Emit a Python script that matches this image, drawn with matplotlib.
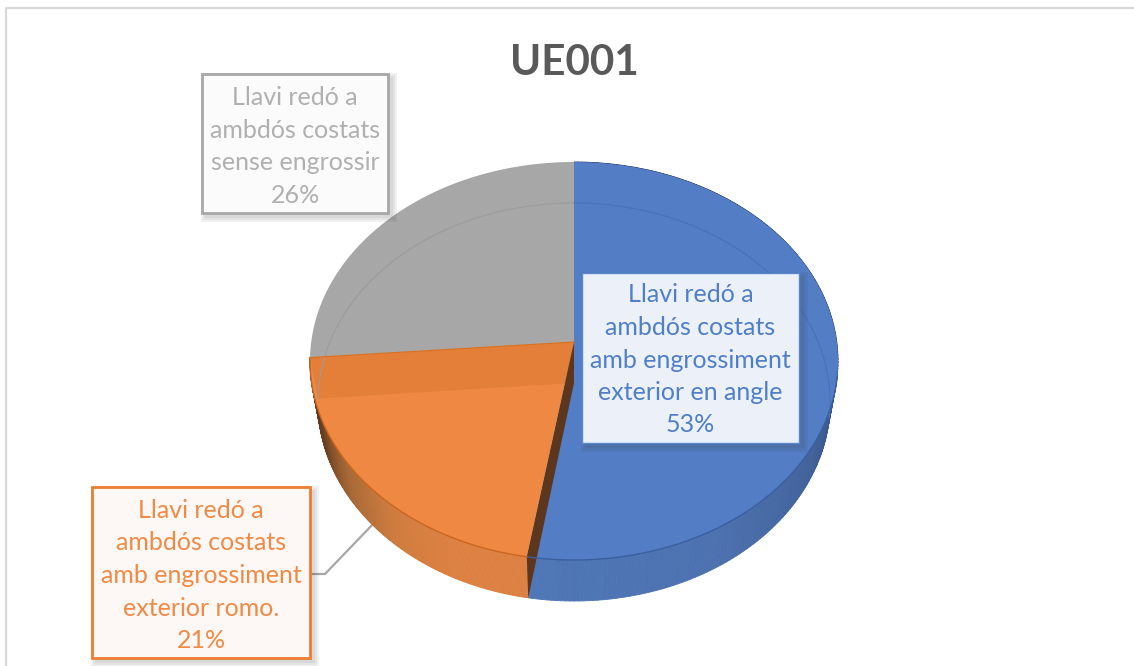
#!/usr/bin/env python3
"""UE001: 3D-looking pie with boxed callout labels, drawn in pixel coordinates."""

import numpy as np
import matplotlib
matplotlib.use("Agg")
import matplotlib.pyplot as plt
from matplotlib.collections import PolyCollection
from matplotlib.colors import LinearSegmentedColormap
from matplotlib.patches import Polygon, Rectangle

TITLE = "UE001"
NAMES = [
    "Llavi redó a\nambdós costats\namb engrossiment\nexterior en angle",
    "Llavi redó a\nambdós costats\namb engrossiment\nexterior romo.",
    "Llavi redó a\nambdós costats\nsense engrossir",
]
# slice sizes as drawn, the labels round them to 53 / 21 / 26
SHARES = [52.6, 21.15, 26.25]

BLUE, ORANGE, GREY = "#537dc5", "#ee8842", "#a7a7a7"

# projection of the pie disc, in pixels
CX, CY = 574, 342
DEPTH = 41
RX, RY, PERSP = 262.8, 197.2, 0.0955
BOTTOM_SHRINK = 0.97


def rim(t, bottom=False):
    """Screen position of the disc edge at angle t (radians, clockwise from top)."""
    x, y = np.sin(t), -np.cos(t)
    w = 1 - PERSP * y
    if bottom:
        return CX + BOTTOM_SHRINK * RX * x / w, CY + DEPTH + RY * y / w
    return CX + RX * x / w, CY + RY * y / w


def arc(t0, t1, bottom=False, n=200):
    return np.column_stack(rim(np.linspace(t0, t1, n), bottom))


def wall(ax, t0, t1, cmap, n=200):
    ts = np.linspace(t0, t1, n + 1)
    top = np.column_stack(rim(ts))
    low = np.column_stack(rim(ts, bottom=True))
    quads = [[top[i], top[i + 1], low[i + 1], low[i]] for i in range(n)]
    cols = cmap(np.linspace(0, 1, n))
    ax.add_collection(PolyCollection(quads, facecolors=cols, edgecolors=cols,
                                     linewidths=0.6, zorder=2))


def callout(ax, x0, y0, x1, y1, text, color, face, edge, lw, size=18, spacing=1.5, dy=0):
    # soft shadow: stacked translucent rectangles, to the lower right
    for grow in (5, 3, 1):
        ax.add_patch(Rectangle((x0 + 4 - grow, y0 + 4 - grow),
                               x1 - x0 + 2 * grow, y1 - y0 + 2 * grow,
                               fc="#404040", ec="none", alpha=0.07, zorder=6))
    ax.add_patch(Rectangle((x0, y0), x1 - x0, y1 - y0, fc=face, ec=edge, lw=lw, zorder=7))
    ax.text((x0 + x1) / 2, (y0 + y1) / 2 + dy, text, color=color, fontsize=size,
            ha="center", va="center", linespacing=spacing, multialignment="center",
            family=["Lato", "DejaVu Sans"], zorder=8)


fig = plt.figure(figsize=(11.34, 6.66), dpi=100)
ax = fig.add_axes([0, 0, 1, 1])
ax.set_xlim(0, 1134)
ax.set_ylim(666, 0)
ax.axis("off")

# chart frame, only the top and left edges are in the crop
ax.plot([6, 6, 1134], [666, 8, 8], color="#d9d9d9", lw=1.6, zorder=1)

ax.text(574, 63, TITLE, color="#595959", fontsize=30.4, fontweight="bold",
        ha="center", va="center", family=["Lato", "DejaVu Sans"])

# leader line of the orange label
ax.plot([310, 325, 375], [574, 574, 522], color=GREY, lw=1.6, zorder=1)

edges = 2 * np.pi * np.cumsum([0] + SHARES) / sum(SHARES)
t_bo, t_og = edges[1], edges[2]

blue_wall = LinearSegmentedColormap.from_list(
    "bw", ["#1d2f55", "#1d2f55", "#263e6b", "#3f5e96", "#4d72b0", "#4f76b6"])
orange_wall = LinearSegmentedColormap.from_list(
    "ow", ["#dd8142", "#dd8142", "#d07c3e", "#a86a38", "#6b4020", "#5c371d"])
wall(ax, 0, t_bo, blue_wall)
wall(ax, t_bo, t_og, orange_wall)

# top faces
apex = (CX, CY)
low_apex = (CX, CY + DEPTH)
ax.add_patch(Polygon(np.vstack([apex, arc(0, t_bo)]), fc=BLUE, ec="none", zorder=3))
ax.add_patch(Polygon(np.vstack([apex, arc(t_og, 2 * np.pi)]), fc=GREY, ec="none", zorder=3))
ax.add_patch(Polygon(np.vstack([apex, arc(t_bo, t_og)]), fc=ORANGE, ec="none", zorder=3))

# darker band: the far cut wall of the orange slice showing through its top
ax.add_patch(Polygon([apex, rim(t_og), rim(t_og, True), low_apex],
                     fc="#e37f39", ec="none", zorder=4))
# brown cut wall between blue and orange
ax.add_patch(Polygon([apex, low_apex, rim(t_bo, True), rim(t_bo)],
                     fc="#5c371d", ec="none", zorder=4))

# ghost outline of the lower rim and the rim highlights
ghost = arc(t_og, 2 * np.pi, bottom=True)
ax.plot(ghost[:, 0], ghost[:, 1], color="#9c9c9c", lw=0.8, zorder=4)
ghost = arc(0, np.radians(100), bottom=True)
ax.plot(ghost[:, 0], ghost[:, 1], color="#4a72b6", lw=0.8, zorder=4)
edge = arc(np.radians(100), t_bo)
ax.plot(edge[:, 0], edge[:, 1], color="#3a5f9f", lw=1.0, zorder=4)
edge = arc(t_bo, t_og)
ax.plot(edge[:, 0], edge[:, 1], color="#c9661f", lw=1.0, zorder=4)
ax.plot([CX, rim(t_og)[0]], [CY, rim(t_og)[1]], color="#d9701f", lw=0.8, zorder=5)

labels = [f"{n}\n{round(s)}%" for n, s in zip(NAMES, SHARES)]
callout(ax, 582, 273, 799, 443, labels[0], "#4f7fc9", "#ecf0f9", "#5b87cd", 1.0, dy=2)
callout(ax, 92, 487, 310, 658, labels[1], "#f08a45", "#fdf8f5", "#ed7d31", 2.0, dy=3)
callout(ax, 202, 74, 388, 213, labels[2], "#b0b0b0", "#fbfbfb", GREY, 2.0, dy=3)

fig.savefig("out.png", dpi=100)
